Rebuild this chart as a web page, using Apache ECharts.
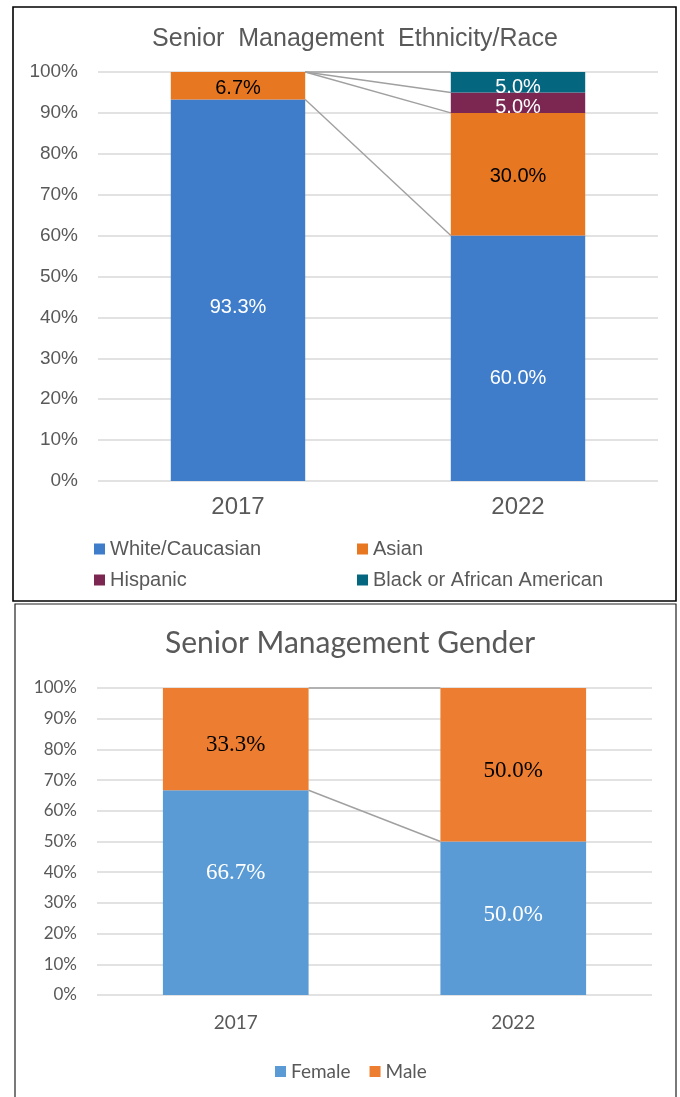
<!DOCTYPE html>
<html>
<head>
<meta charset="utf-8">
<script src="https://cdn.jsdelivr.net/npm/echarts@6/dist/echarts.min.js"></script>
<style>
  html, body { margin: 0; padding: 0; background: #fff; }
  #chart { width: 680px; height: 1097px; }
</style>
</head>
<body>
<div id="chart"></div>
<script>
// 数据
const years = ['2017', '2022'];
const yTicks = [0, 10, 20, 30, 40, 50, 60, 70, 80, 90, 100];

const ethNames = ['White/Caucasian', 'Asian', 'Hispanic', 'Black or African American'];
const white = [93.3, 60.0];
const asian = [6.7, 30.0];
const hispanic = [0, 5.0];
const black = [0, 5.0];

const genderNames = ['Female', 'Male'];
const female = [66.7, 50.0];
const male = [33.3, 50.0];

const chart = echarts.init(document.getElementById('chart'));

const ARIAL = 'Liberation Sans, Arial, sans-serif';
const CALIBRI = 'Lato, Carlito, Calibri, sans-serif';
const GREY = '#595959';

// 累计高度，用来画系列线
function cumulate(list) {
  const out = [];
  let run = [0, 0];
  list.forEach((s) => {
    run = [run[0] + s[0], run[1] + s[1]];
    out.push(run.slice());
  });
  return out;
}

// 系列线（两根柱子之间的连线）
function seriesLines(stacks, gridIdx, barPct) {
  return {
    type: 'custom',
    xAxisIndex: gridIdx,
    yAxisIndex: gridIdx,
    silent: true,
    z: 1,
    encode: { x: [0, 2], y: [1, 3] },
    data: stacks.map((s) => [0, s[0], 1, s[1]]),
    renderItem: (params, api) => {
      const p0 = api.coord([api.value(0), api.value(1)]);
      const p1 = api.coord([api.value(2), api.value(3)]);
      const half = api.size([1, 0])[0] * barPct / 2;
      return {
        type: 'line',
        shape: { x1: p0[0] + half, y1: p0[1], x2: p1[0] - half, y2: p1[1] },
        style: { stroke: '#A0A0A0', lineWidth: 1.4 }
      };
    }
  };
}

function barSeries(name, values, color, gridIdx, barWidth, labelStyle, offsets) {
  return {
    name: name,
    type: 'bar',
    stack: 'total' + gridIdx,
    xAxisIndex: gridIdx,
    yAxisIndex: gridIdx,
    barWidth: barWidth,
    z: 2,
    itemStyle: { color: color },
    label: Object.assign({
      show: true,
      position: 'inside',
      formatter: (p) => (p.value > 0 ? p.value.toFixed(1) + '%' : '')
    }, labelStyle),
    data: values.map((v, i) => ({ value: v, label: { offset: [0, offsets[i]] } }))
  };
}

const ethColors = ['#3F7DCA', '#E87722', '#7B2751', '#04677F'];
const ethValues = [white, asian, hispanic, black];
const ethLabelColors = ['#fff', '#000', '#fff', '#fff'];
const ethOffsets = [[17, 20], [3, 2], [0, 5], [0, 5]];

const genColors = ['#5B9BD5', '#ED7D31'];
const genValues = [female, male];
const genLabelColors = ['#fff', '#000'];
const genOffsets = [[-20, -3], [6, 6]];

const series = [];
ethValues.forEach((vals, i) => {
  series.push(barSeries(ethNames[i], vals, ethColors[i], 0, '48%',
    { color: ethLabelColors[i], fontFamily: ARIAL, fontSize: 20 }, ethOffsets[i]));
});
series.push(seriesLines(cumulate(ethValues), 0, 0.48));
genValues.forEach((vals, i) => {
  series.push(barSeries(genderNames[i], vals, genColors[i], 1, '52.5%',
    { color: genLabelColors[i], fontFamily: 'Liberation Serif, Times New Roman, serif', fontSize: 23 }, genOffsets[i]));
});
series.push(seriesLines(cumulate(genValues), 1, 0.525));

function legendItem(name, left, top, font, size) {
  return {
    data: [name], left: left, top: top,
    itemWidth: 11, itemHeight: 11, itemGap: 19,
    icon: 'rect',
    textStyle: { fontFamily: font, fontSize: size, color: GREY, padding: [0, 0, 0, 0] }
  };
}

const option = {
  animation: false,
  backgroundColor: '#fff',
  title: [
    {
      text: 'Senior  Management  Ethnicity/Race',
      left: 350, top: 22, textAlign: 'center',
      textStyle: { fontFamily: ARIAL, fontSize: 25, fontWeight: 'normal', color: GREY }
    },
    {
      text: 'Senior Management Gender',
      left: 345, top: 623, textAlign: 'center',
      textStyle: { fontFamily: CALIBRI, fontSize: 30, fontWeight: 'normal', color: GREY }
    }
  ],
  legend: [
    legendItem(ethNames[0], 89, 534, ARIAL, 20),
    legendItem(ethNames[1], 352, 534, ARIAL, 20),
    legendItem(ethNames[2], 89, 565, ARIAL, 20),
    legendItem(ethNames[3], 352, 565, ARIAL, 20),
    {
      data: genderNames, left: 270, top: 1057,
      itemWidth: 11, itemHeight: 11, itemGap: 19, icon: 'rect',
      textStyle: { fontFamily: CALIBRI, fontSize: 19, color: GREY }
    }
  ],
  grid: [
    { left: 98, right: 22, top: 72, height: 409 },
    { left: 97, right: 28, top: 688, height: 307 }
  ],
  xAxis: [
    {
      type: 'category', gridIndex: 0, data: years,
      axisLine: { show: false }, axisTick: { show: false },
      axisLabel: { margin: 14, fontFamily: ARIAL, fontSize: 24, color: GREY }
    },
    {
      type: 'category', gridIndex: 1, data: years,
      axisLine: { show: false }, axisTick: { show: false },
      axisLabel: { margin: 18, fontFamily: CALIBRI, fontSize: 19, color: GREY }
    }
  ],
  yAxis: [0, 1].map((g) => ({
    type: 'value', gridIndex: g,
    min: yTicks[0], max: yTicks[yTicks.length - 1], interval: yTicks[1] - yTicks[0],
    axisLine: { show: false }, axisTick: { show: false },
    splitLine: { lineStyle: { color: '#D9D9D9', width: 1.5 } },
    axisLabel: {
      margin: 20,
      formatter: '{value}%',
      fontFamily: g === 0 ? ARIAL : CALIBRI,
      fontSize: g === 0 ? 19 : 17,
      color: GREY
    }
  })),
  graphic: [
    { type: 'rect', shape: { x: 13, y: 7, width: 663, height: 594 }, style: { fill: 'none', stroke: '#000', lineWidth: 1.6 }, z: 100 },
    { type: 'rect', shape: { x: 15, y: 604, width: 661, height: 500 }, style: { fill: 'none', stroke: '#222', lineWidth: 1.2 }, z: 100 }
  ],
  series: series
};

chart.setOption(option);
</script>
</body>
</html>
